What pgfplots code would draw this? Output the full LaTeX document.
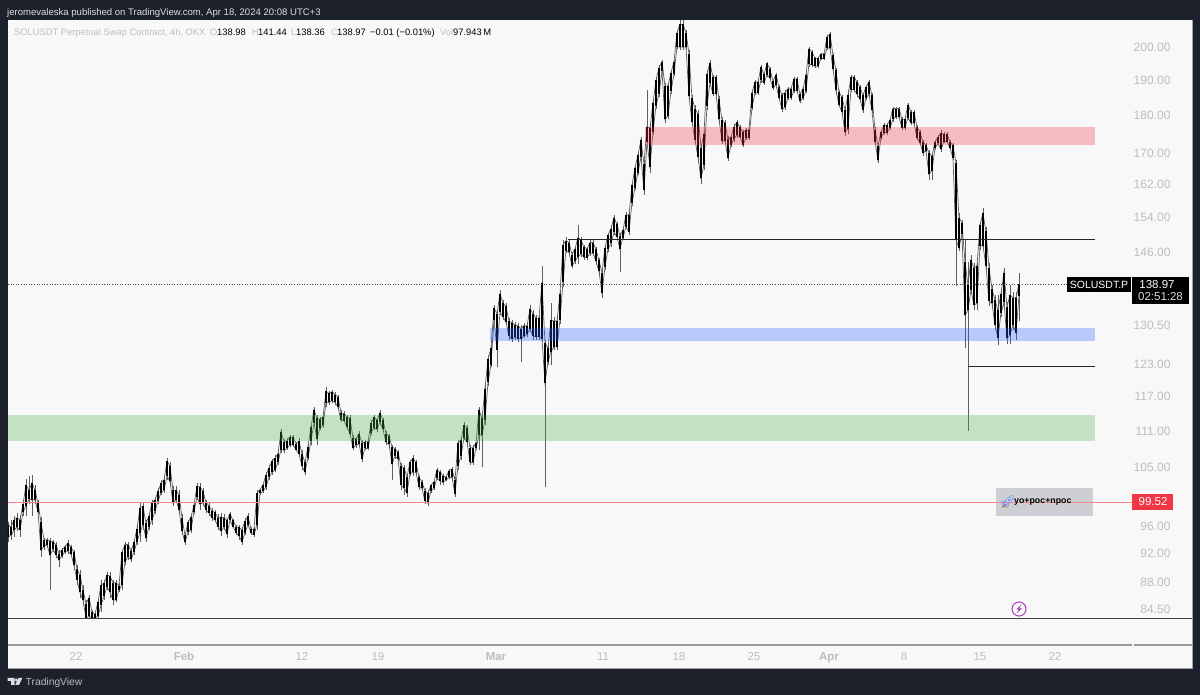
\documentclass[border=0pt]{standalone}
\usepackage{pgfplots}
\usepackage{pgfplotstable}
\usepackage{fontspec}
\pgfplotsset{compat=1.18}
\setmainfont{Liberation Sans}
\newfontfamily\emojifont{Noto Emoji}
\definecolor{dark}{HTML}{1D212C}
\definecolor{panel}{HTML}{F8F8F8}
\definecolor{tick}{HTML}{BBBDC4}
\definecolor{legendgray}{HTML}{BDBFC6}
\definecolor{wick}{HTML}{5E5E5E}
\definecolor{zonegreen}{HTML}{4CAF50}
\definecolor{zonered}{HTML}{F23645}
\definecolor{zoneblue}{HTML}{2962FF}
\definecolor{linered}{HTML}{F23645}
\definecolor{sep}{HTML}{9A9A9E}
\definecolor{bolt}{HTML}{AB47BC}
\pgfplotstableread{
L H B T
93.6 96.6 94.4 96.2
94.0 96.9 94.6 95.8
94.4 97.5 95.4 96.9
95.3 97.9 95.8 97.2
94.4 97.6 95.4 96.9
97.5 99.9 98.0 99.2
97.5 103.2 99.0 102.2
99.2 103.6 100.0 101.4
97.5 103.8 99.9 102.5
99.2 102.2 99.9 101.4
97.7 99.9 98.1 99.4
91.5 97.3 92.5 96.5
92.5 94.3 93.0 94.0
92.8 94.3 93.3 94.0
87.0 94.2 91.8 93.8
92.2 94.0 92.6 93.7
91.4 93.6 91.8 93.2
90.2 92.5 91.1 92.0
91.4 92.8 91.7 92.5
92.0 93.3 92.3 93.0
92.0 94.0 92.4 93.5
91.6 93.3 91.9 92.9
89.7 92.5 90.4 92.2
87.7 90.4 88.4 89.9
86.0 89.7 86.7 89.0
85.0 87.7 85.7 87.0
83.3 85.7 83.4 85.2
83.3 86.4 83.6 86.0
83.3 84.4 83.4 84.1
83.3 84.1 83.4 83.9
83.3 85.7 83.6 85.4
84.1 88.4 85.0 87.7
85.7 88.4 86.2 87.9
87.0 89.4 87.4 89.0
86.0 89.4 86.7 88.9
85.0 88.4 85.7 88.0
85.4 88.4 85.7 88.0
86.8 87.9 87.0 87.6
87.0 92.5 87.7 92.2
90.4 93.7 90.9 93.3
91.1 93.7 91.5 93.3
90.9 92.8 91.2 92.4
91.8 94.0 92.2 93.6
93.3 96.1 93.7 95.6
93.6 99.5 95.0 98.7
95.4 99.5 96.2 98.9
93.6 96.9 94.2 96.4
95.4 97.9 95.9 97.5
96.1 99.9 96.9 99.4
97.7 100.4 98.2 99.9
99.2 101.7 99.7 101.2
100.7 103.0 101.0 102.5
101.0 103.5 101.4 103.0
103.0 106.6 103.6 106.0
102.2 105.8 102.8 105.2
98.9 102.0 99.4 101.4
99.5 102.0 99.9 101.4
97.7 101.4 98.4 100.7
94.7 97.7 95.2 97.2
93.3 95.0 93.6 94.6
94.7 96.9 95.1 96.5
95.0 97.7 95.4 97.3
97.7 99.5 98.1 99.1
99.9 102.5 100.4 102.0
98.4 102.5 99.2 101.9
99.0 101.7 99.5 101.2
97.9 99.9 98.4 99.5
97.5 99.5 97.9 99.0
96.7 98.7 97.2 98.2
96.5 98.4 96.9 98.0
95.4 97.7 95.9 97.2
94.5 97.9 95.2 97.3
95.4 97.7 95.8 97.2
94.3 97.2 94.8 96.8
96.5 98.1 96.8 97.8
95.7 97.0 95.9 96.8
94.7 96.1 95.0 95.9
94.0 96.2 94.5 95.8
93.3 95.8 93.7 95.4
94.6 97.2 95.0 96.7
95.8 97.9 96.2 97.5
94.7 95.8 95.0 95.5
94.4 95.8 94.7 95.5
95.4 101.4 96.2 100.9
100.7 101.7 100.9 101.5
100.9 102.5 101.2 102.2
101.4 104.3 101.9 103.8
103.0 105.4 103.4 104.9
103.8 106.4 104.2 106.0
104.2 107.0 104.6 106.5
105.4 107.5 105.8 107.2
107.4 111.4 107.9 110.9
107.4 109.7 107.8 109.2
107.8 109.8 108.1 109.4
108.4 110.3 108.7 110.0
108.4 110.3 108.7 110.0
107.6 109.2 107.9 108.9
106.7 109.8 107.2 109.3
104.6 107.8 105.2 107.2
103.8 106.2 104.2 105.8
106.2 108.9 106.6 108.4
108.7 112.2 109.3 111.7
111.9 115.2 112.4 114.7
108.7 113.8 109.7 113.2
111.2 113.5 111.6 113.0
111.5 113.8 112.0 113.4
115.2 118.7 115.9 118.0
115.6 118.0 116.0 117.6
115.9 118.3 116.3 117.9
115.6 117.8 116.0 117.4
114.7 117.4 115.2 117.0
112.5 114.7 112.9 114.2
112.5 114.4 112.8 114.0
111.2 113.8 111.7 113.4
110.0 113.8 110.6 113.2
107.8 110.3 108.2 109.9
108.2 110.0 108.6 109.7
108.5 111.0 108.9 110.6
105.8 109.5 106.4 109.0
107.8 109.5 108.1 109.2
107.8 109.5 108.1 109.2
110.3 112.9 110.7 112.4
111.2 113.8 111.6 113.4
110.9 113.3 111.3 112.9
112.0 114.7 112.5 114.2
110.9 113.3 111.3 112.9
108.7 111.0 109.1 110.6
108.4 110.6 108.8 110.2
103.0 108.7 105.6 108.4
106.4 108.4 106.8 108.0
106.0 107.8 106.4 107.5
101.4 105.7 102.2 105.2
100.7 105.4 101.7 104.9
100.4 104.0 101.0 103.5
103.6 106.2 104.0 105.8
103.6 107.0 104.2 106.5
103.8 106.2 104.2 105.8
101.4 103.8 101.9 103.4
101.4 103.0 101.7 102.7
99.2 101.7 99.7 101.2
98.9 101.4 99.4 100.9
101.0 102.4 101.3 102.2
101.4 103.0 101.7 102.7
103.0 104.9 103.3 104.6
102.2 104.6 102.8 104.2
102.2 104.0 102.6 103.7
102.9 103.5 103.0 103.4
103.1 104.8 103.4 104.5
103.0 105.0 103.4 104.7
100.4 103.4 100.8 103.0
104.6 109.5 105.2 109.0
106.2 110.0 106.8 109.5
109.5 112.5 109.9 112.0
108.7 112.0 109.2 111.6
105.4 108.7 105.8 108.2
105.4 108.7 105.8 108.2
107.8 109.2 108.1 109.0
107.8 115.2 110.3 114.7
105.0 113.8 110.3 113.2
112.0 119.2 112.9 118.4
118.9 124.8 119.6 124.0
122.4 126.7 122.9 126.0
131.0 134.7 131.6 134.0
122.4 133.6 125.7 132.9
132.6 137.8 133.2 137.0
131.6 135.7 132.2 135.0
130.6 135.0 131.2 134.4
127.7 132.0 128.4 131.4
127.3 131.6 127.9 131.0
127.7 131.2 128.2 130.6
127.3 131.0 127.9 130.4
123.4 130.6 127.9 129.9
128.0 131.0 128.4 130.5
128.2 131.0 128.8 130.4
129.2 134.7 129.8 133.8
127.7 133.6 128.4 132.9
127.7 132.6 128.3 132.0
127.7 132.6 128.3 132.0
127.3 143.0 127.9 139.4
101.9 127.7 119.5 127.1
122.9 126.7 123.4 126.0
122.9 135.1 125.4 131.6
125.7 132.2 126.3 131.4
125.7 132.2 126.3 131.4
130.9 137.8 131.6 137.0
138.5 148.8 139.5 147.7
145.8 149.4 146.4 148.6
145.4 148.8 146.0 148.2
142.5 146.1 143.0 145.5
143.4 147.3 144.0 146.8
143.4 152.2 145.0 149.3
145.0 149.5 145.6 148.8
144.3 147.7 144.9 147.2
144.3 147.3 144.8 146.8
145.2 148.8 145.8 148.2
145.2 148.8 145.8 148.2
143.2 147.3 144.0 146.7
141.2 144.8 141.8 144.2
136.1 142.1 137.2 141.5
142.1 147.7 142.8 147.0
146.0 150.4 146.8 149.9
147.3 152.2 148.0 151.4
149.9 154.6 150.6 154.0
148.8 153.0 149.5 152.4
141.7 150.4 146.8 149.7
148.8 151.8 149.3 151.1
151.3 155.2 151.8 154.6
149.9 155.2 150.6 154.6
156.7 162.6 157.5 161.8
160.6 167.0 161.2 166.2
164.3 170.2 165.0 169.5
168.2 174.3 169.0 173.4
159.4 168.2 160.6 167.2
172.5 187.2 172.9 177.0
165.0 178.0 166.5 176.6
174.8 184.4 175.5 183.5
182.0 190.9 182.8 190.0
185.3 194.6 186.0 193.8
192.2 196.1 192.8 195.6
178.0 189.2 179.0 188.4
179.0 189.2 180.0 188.4
186.0 193.1 186.9 192.3
191.3 196.1 191.9 195.5
199.4 205.2 200.0 204.4
199.1 208.4 200.0 207.0
199.1 208.4 200.0 207.0
199.1 205.2 200.0 204.4
184.4 199.1 185.5 198.0
177.4 185.8 178.4 185.0
172.3 183.0 173.5 182.0
167.4 181.5 169.0 180.4
162.0 172.3 163.5 171.4
165.6 176.1 167.0 175.0
181.6 193.1 182.8 192.0
188.4 196.1 189.3 195.2
185.5 191.6 186.2 191.0
185.5 191.6 186.2 191.0
178.0 185.5 179.0 184.6
172.3 179.7 173.2 178.8
172.3 178.8 173.2 178.0
168.0 174.4 168.8 173.6
171.5 174.8 172.0 174.2
173.0 177.7 173.8 177.0
174.0 178.8 174.8 178.2
173.6 177.4 174.2 176.8
171.5 176.1 172.1 175.5
173.4 176.6 174.0 176.1
173.4 176.6 174.0 176.1
181.6 187.2 182.2 186.5
185.8 190.2 186.4 189.6
185.8 190.2 186.4 189.6
189.3 194.6 190.1 193.9
188.7 192.2 189.3 191.8
191.0 195.5 191.6 195.0
190.2 194.0 190.7 193.4
187.2 190.2 187.8 189.8
188.2 192.2 188.8 191.7
184.4 188.7 185.0 188.1
181.0 186.4 181.8 185.8
181.6 187.2 182.3 186.5
184.4 188.2 185.0 187.6
184.4 188.2 185.0 187.6
186.4 191.0 187.0 190.5
186.4 191.0 187.0 190.5
183.5 186.4 184.0 186.0
184.4 188.2 185.0 187.6
186.4 192.2 187.0 191.6
194.0 200.0 194.8 199.4
194.0 199.1 194.6 198.5
193.7 197.0 194.2 196.6
193.7 197.0 194.2 196.6
196.1 198.2 196.5 197.9
196.1 198.2 196.5 197.9
199.1 203.7 199.7 203.0
199.1 204.6 199.7 204.0
192.8 198.2 193.4 197.6
186.0 193.7 187.2 193.0
182.4 187.2 183.0 186.6
180.2 185.8 181.0 185.2
174.6 182.4 175.5 181.6
175.0 187.2 176.5 185.8
186.6 191.6 187.4 191.0
186.6 191.6 187.4 191.0
185.2 190.2 186.0 189.6
184.0 188.7 184.6 188.1
180.8 186.4 181.5 185.7
184.4 188.7 185.0 188.1
185.2 190.2 186.0 189.6
180.8 186.4 181.5 185.7
172.3 177.0 173.0 176.2
167.4 172.5 168.2 171.8
173.4 176.1 174.0 175.6
174.8 178.0 175.4 177.4
174.8 178.0 175.4 177.4
176.1 179.3 176.7 178.8
178.3 182.5 179.0 182.0
179.0 182.5 179.7 182.0
179.0 182.5 179.7 182.0
176.1 179.6 176.7 179.0
176.1 179.6 176.7 179.0
178.8 183.7 179.5 183.1
177.4 181.6 178.0 181.0
177.4 181.6 178.0 181.0
173.4 177.4 174.0 176.9
172.1 176.1 172.7 175.6
169.2 173.4 170.0 172.8
170.2 172.5 170.6 172.1
163.1 170.8 164.5 170.0
163.1 170.0 165.5 169.2
170.8 173.4 171.3 172.9
172.0 174.8 172.5 174.2
170.2 176.1 171.0 175.2
172.5 175.5 173.0 175.0
172.5 175.5 173.0 175.0
170.8 173.4 171.3 172.9
168.2 172.5 168.8 172.0
138.6 168.2 148.8 167.5
146.2 155.1 147.0 154.0
149.6 153.4 150.2 152.8
126.1 148.8 132.6 143.8
111.0 143.8 133.6 138.9
137.0 145.4 137.8 144.3
133.6 143.6 134.7 142.5
133.6 143.8 135.0 143.0
146.5 153.0 147.5 152.2
146.5 156.2 147.5 155.0
142.1 151.8 143.0 150.8
134.4 143.6 135.5 142.6
134.4 138.9 135.0 138.0
129.6 136.7 130.6 135.7
126.6 136.7 128.0 133.6
132.2 138.0 133.0 137.0
134.3 142.5 135.2 141.5
126.8 135.2 128.0 134.3
126.8 138.9 128.6 136.7
129.6 137.3 130.6 136.2
127.7 137.3 129.0 136.2
131.4 141.44 136.5 138.98
}\candles
\begin{document}
\begin{tikzpicture}[x=1pt,y=1pt]
\fill[dark] (0,0) rectangle (1200,695);
\begin{axis}[
  at={(8pt,27pt)}, anchor=south west,
  scale only axis, width=1184pt, height=648pt,
  ymode=log, log basis y=10,
  xmin=0, xmax=394.6667, ymin=77.22, ymax=208.45,
  axis background/.style={fill=panel},
  axis line style={draw=none},
  major tick length=0pt, minor tick length=0pt,
  ytick={200,190,180,170,162,154,146,130.5,123,117,111,105,96,92,88,84.5},
  yticklabels={200.00,190.00,180.00,170.00,162.00,154.00,146.00,130.50,123.00,117.00,111.00,105.00,96.00,92.00,88.00,84.50},
  yminorticks=false, ytick pos=right, yticklabel pos=right,
  yticklabel style={anchor=east, xshift=-18pt, font=\fontsize{12}{14}\selectfont, text=tick},
  xtick={22.67,58.67,98,123.33,162.67,198.33,223.67,248.67,273.67,298.67,324,349},
  xticklabels={22,\textbf{Feb},12,19,\textbf{Mar},11,18,25,\textbf{Apr},8,15,22},
  xtick pos=bottom,
  xticklabel style={anchor=base, yshift=7pt, font=\fontsize{11.5}{13}\selectfont, text=tick},
  clip=true,
]
% candles
\addplot[draw=none, mark=none, forget plot,
  error bars/.cd, y dir=plus, y explicit, error mark=none,
  error bar style={draw=wick, line width=0.8pt}]
  table[x expr=\coordindex, y=L, y error plus expr=\thisrow{H}-\thisrow{L}] {\candles};
\addplot[wick, line width=0.7pt, mark=none, forget plot]
  table[x expr=\coordindex, y=B] {\candles};
\addplot[wick, line width=0.7pt, mark=none, forget plot]
  table[x expr=\coordindex, y=T] {\candles};
\addplot[draw=none, mark=none, forget plot,
  error bars/.cd, y dir=plus, y explicit, error mark=none,
  error bar style={draw=black, line width=1.6pt}]
  table[x expr=\coordindex, y=B, y error plus expr=\thisrow{T}-\thisrow{B}] {\candles};
% zones
\addplot[draw=none, fill=zonegreen, fill opacity=0.3, forget plot] coordinates {(0,109.4) (362.33,109.4) (362.33,113.8) (0,113.8)} --cycle;
\addplot[draw=none, fill=zonered, fill opacity=0.3, forget plot] coordinates {(212.33,172.1) (362.33,172.1) (362.33,176.9) (212.33,176.9)} --cycle;
\addplot[draw=none, fill=zoneblue, fill opacity=0.3, forget plot] coordinates {(160.67,127.5) (362.33,127.5) (362.33,130.0) (160.67,130.0)} --cycle;
% levels
\addplot[black!85, line width=0.9pt, forget plot] coordinates {(186.67,148.8) (362.33,148.8)};
\addplot[black!85, line width=0.9pt, forget plot] coordinates {(320,122.5) (362.33,122.5)};
\addplot[black!75, line width=0.9pt, forget plot] coordinates {(0,83.3) (394.67,83.3)};
\addplot[black!70, line width=0.6pt, dotted, forget plot] coordinates {(0,138.97) (353,138.97)};
\addplot[sep, line width=1.8pt, forget plot] coordinates {(0,80) (374.8,80)};
\addplot[sep, line width=1.8pt, forget plot] coordinates {(375.4,80) (394.67,80)};
% indicator box
\addplot[draw=none, fill=legendgray!75, forget plot] coordinates {(329.33,97.5) (361.67,97.5) (361.67,101.8) (329.33,101.8)} --cycle;
\addplot[linered!60, line width=1.2pt, forget plot] coordinates {(0,99.52) (375,99.52)};
\end{axis}
% header and footer
\node[anchor=base west, inner sep=0, text=white!85!dark, font=\fontsize{9.55}{12}\selectfont] at (7,695-15.5) {jeromevaleska published on TradingView.com, Apr 18, 2024 20:08 UTC+3};
% chart legend
\begin{scope}[every node/.style={anchor=base west, inner sep=0, font=\fontsize{9.35}{12}\selectfont}]
\node[text=legendgray] at (14,695-36) {SOLUSDT Perpetual Swap Contract, 4h, OKX};
\node[text=legendgray] at (210,695-36) {O};
\node[text=black] at (217,695-36) {138.98};
\node[text=legendgray] at (252,695-36) {H};
\node[text=black] at (258,695-36) {141.44};
\node[text=legendgray] at (291,695-36) {L};
\node[text=black] at (296,695-36) {138.36};
\node[text=legendgray] at (331,695-36) {C};
\node[text=black] at (337,695-36) {138.97};
\node[text=black] at (370,695-36) {−0.01 (−0.01\%)};
\node[text=legendgray] at (440,695-36) {Vol};
\node[text=black] at (453,695-36) {97.943\,M};
\end{scope}
% last-price labels
\fill[black] (1067,695-277) rectangle (1131,695-292);
\node[anchor=center, inner sep=0, text=white, font=\fontsize{10.5}{13}\selectfont] at (1099,695-285) {SOLUSDT.P};
\fill[black] (1132,695-277) rectangle (1189,695-304);
\node[anchor=center, inner sep=0, text=white, font=\fontsize{11.5}{13}\selectfont] at (1157,695-285) {138.97};
\node[anchor=center, inner sep=0, text=white!85!black, font=\fontsize{11.5}{13}\selectfont] at (1160.5,695-297) {02:51:28};
\fill[linered] (1132,695-494) rectangle (1173,695-510);
\node[anchor=center, inner sep=0, text=white, font=\fontsize{11.5}{13}\selectfont] at (1153,695-502) {99.52};
% indicator text
\fill[orange!90!yellow] (1001.5,695-508) -- (1004.5,695-503.5) -- (1006.5,695-506.5) -- cycle;
\node[anchor=center, inner sep=0, text=zoneblue!75, font=\emojifont\fontsize{13}{13}\selectfont] at (1007.5,695-502) {🚀};
\node[anchor=west, inner sep=0, text=black, font=\bfseries\fontsize{8.8}{11}\selectfont] at (1014,695-502) {yo+poc+npoc};
% lightning icon
\filldraw[draw=bolt, fill=white, line width=1.1pt] (1019,695-609) circle (7);
\fill[bolt] (1021.5,695-604.5) -- (1016,695-609.5) -- (1018.6,695-609.5) -- (1016.5,695-613.5) -- (1022,695-608.5) -- (1019.4,695-608.5) -- cycle;
% panel edge
\draw[gray!70, line width=0.7pt] (1192,695-20) -- (1192,695-668) -- (8,695-668);
% TradingView logo and name
\fill[white!85!dark] (7.5,695-678) -- (14.5,695-678) -- (14.5,695-685) -- (11,695-685) -- (11,695-681) -- (7.5,695-681) -- cycle;
\fill[white!85!dark] (16.2,695-680) circle (1.6);
\fill[white!85!dark] (18.5,695-678) -- (22.3,695-678) -- (19,695-685) -- (15.2,695-685) -- cycle;
\node[anchor=base west, inner sep=0, text=white!70!dark, font=\fontsize{10.3}{13}\selectfont] at (25.5,695-686) {TradingView};
\end{tikzpicture}
\end{document}
